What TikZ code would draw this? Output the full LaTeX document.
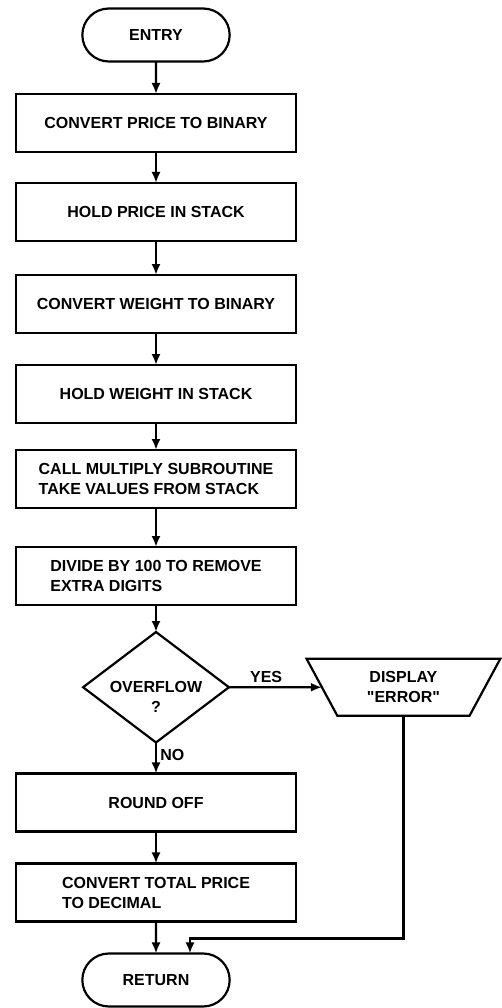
\documentclass[tikz,border=0pt]{standalone}
\usepackage{fontspec}
\setmainfont{Liberation Sans}
\usepackage{tikz}
\usetikzlibrary{shapes.geometric, shapes.misc, arrows.meta, positioning}
\newcommand{\flowfont}{\bfseries\fontsize{16}{20}\selectfont}
\tikzset{
  term/.style={rounded rectangle, draw, line width=2.2pt, outer sep=0pt, minimum width=154pt, minimum height=53pt, font=\flowfont},
  proc/.style={rectangle, draw, line width=2.2pt, outer sep=0pt, minimum width=280pt, minimum height=58pt, align=left, font=\flowfont},
  dec/.style={diamond, aspect=1.32, draw, line width=2.2pt, outer sep=0pt, minimum width=145pt, minimum height=110pt, align=center, inner sep=-3pt, font=\flowfont},
  disp/.style={trapezium, trapezium left angle=116, trapezium right angle=116, trapezium stretches=true, draw, line width=2.2pt, outer sep=0pt, minimum width=194pt, minimum height=57pt, align=center, font=\flowfont},
  arr/.style={-{Latex[length=11pt,width=9pt]}, line width=2.2pt},
  lbl/.style={font=\flowfont},
}

\begin{document}
\begin{tikzpicture}[x=1pt, y=-1pt]
\useasboundingbox (0,0) rectangle (502,1008);
\node[term] (entry) at (156,35) {ENTRY};
\node[proc, below=32.5pt of entry] (cvtprice) {CONVERT PRICE TO BINARY};
\node[proc, below=31pt of cvtprice] (holdprice) {HOLD PRICE IN STACK};
\node[proc, below=34pt of holdprice] (cvtweight) {CONVERT WEIGHT TO BINARY};
\node[proc, below=32pt of cvtweight] (holdweight) {HOLD WEIGHT IN STACK};
\node[proc, below=27pt of holdweight] (callmul) {CALL MULTIPLY SUBROUTINE\\TAKE VALUES FROM STACK};
\node[proc, below=39pt of callmul] (divide) {DIVIDE BY 100 TO REMOVE\\EXTRA DIGITS};
\node[dec, below=27pt of divide] (ovf) {\rule{0pt}{31pt}OVERFLOW\\?};
\node[disp, right=93pt of ovf] (err) {DISPLAY\\\textquotedbl ERROR\textquotedbl};
\node[proc, below=31pt of ovf] (round) {ROUND OFF};
\node[proc, below=32pt of round] (cvttotal) {CONVERT TOTAL PRICE\\TO DECIMAL};
\node[term, below=32pt of cvttotal] (ret) {RETURN};
\draw[arr] (entry)--(cvtprice); \draw[arr] (cvtprice)--(holdprice); \draw[arr] (holdprice)--(cvtweight);
\draw[arr] (cvtweight)--(holdweight); \draw[arr] (holdweight)--(callmul); \draw[arr] (callmul)--(divide);
\draw[arr] (divide)--(ovf);
\draw[arr] (ovf)-- node[lbl, above, pos=0.4]{YES} (err);
\draw[arr] (ovf)-- node[lbl, right, pos=0.4]{NO} (round);
\draw[arr] (round)--(cvttotal); \draw[arr] (cvttotal)--(ret);
\draw[arr] (err.south) |- ([shift={(34pt,15pt)}]ret.north) -- ([xshift=34pt]ret.north);
\end{tikzpicture}
\end{document}
